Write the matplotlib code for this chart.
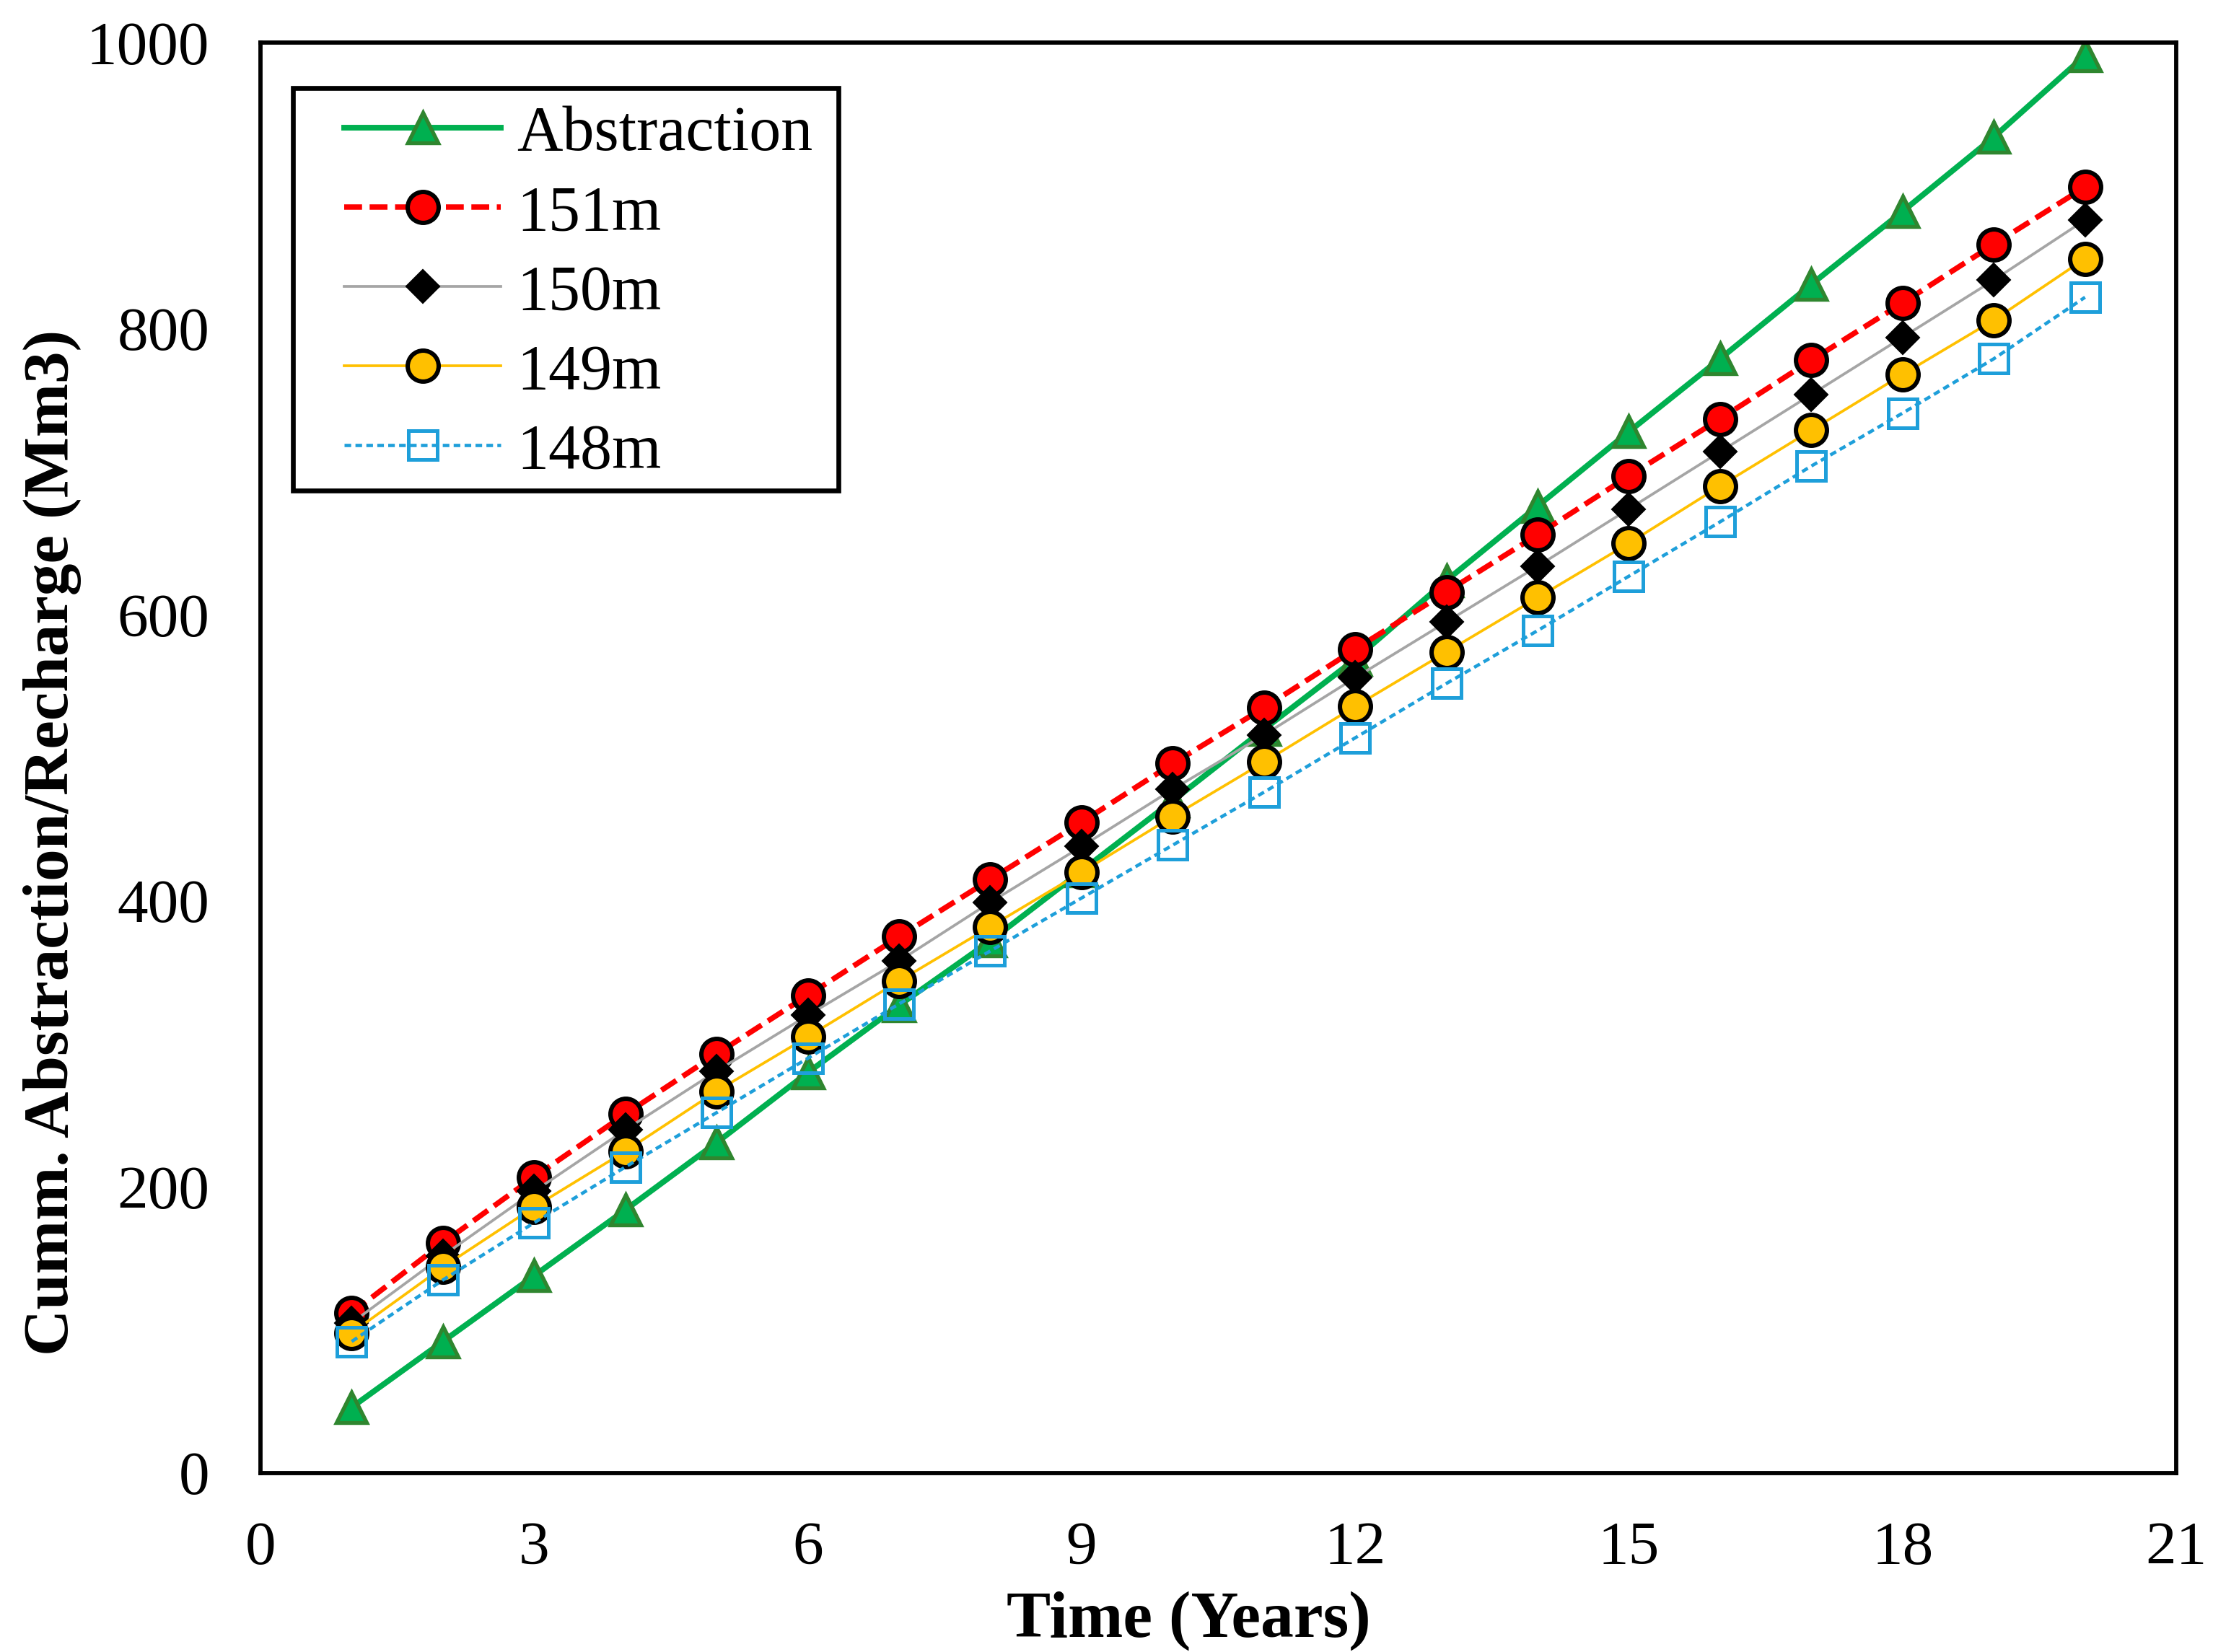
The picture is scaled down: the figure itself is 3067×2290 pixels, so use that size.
import matplotlib
matplotlib.use("Agg")
import matplotlib.pyplot as plt
from matplotlib.patches import Rectangle

plt.rcParams['font.family'] = ['Liberation Serif', 'DejaVu Serif']

# data
years = list(range(1, 21))
abstraction = [46, 92, 138, 184, 231, 280, 327, 372, 421, 470,
               520, 569, 624, 676, 728, 779, 831, 882, 934, 991]
r151 = [112, 161, 207, 251, 293, 334, 375, 415, 455, 496,
        535, 576, 616, 656, 697, 737, 778, 818, 859, 899]
r150 = [105, 152, 197, 240, 281, 320, 358, 399, 438, 478,
        516, 556, 595, 634, 674, 714, 754, 794, 834, 876]
r149 = [98, 144, 186, 225, 267, 305, 344, 382, 420, 459,
        497, 536, 574, 612, 650, 690, 729, 768, 806, 849]
r148 = [92, 135, 175, 214, 252, 290, 328, 365, 402, 439,
        476, 514, 552, 589, 627, 665, 704, 741, 779, 822]

x_ticks = [0, 3, 6, 9, 12, 15, 18, 21]
y_ticks = [0, 200, 400, 600, 800, 1000]

fig = plt.figure(figsize=(3067 / 300, 2290 / 300), dpi=300)
ax = fig.add_axes([0.1177, 0.1083, 0.8657, 0.8659])

ax.plot(years, abstraction, color='#00B050', lw=1.9, marker='^', ms=10,
        mfc='#00B050', mec='#2F862F', mew=1.3, label='Abstraction')
ax.plot(years, r151, color='#FF0000', lw=1.8, dashes=(3.3, 1.4), marker='o', ms=10.3,
        mfc='#FF0000', mec='black', mew=1.45, label='151m')
ax.plot(years, r150, color='#A5A5A5', lw=0.9, marker='D', ms=7.9,
        mfc='black', mec='black', mew=0.5, label='150m')
ax.plot(years, r149, color='#FFC000', lw=0.9, marker='o', ms=10.3,
        mfc='#FFC000', mec='black', mew=1.45, label='149m')
ax.plot(years, r148, color='#1E9FDA', lw=1.1, dashes=(2.0, 1.3), marker='s', ms=9.8,
        mfc='none', mec='#1E9FDA', mew=1.2, label='148m')

ax.set_xlim(0, 21)
ax.set_ylim(0, 1000)
ax.set_xticks(x_ticks)
ax.set_yticks(y_ticks)
ax.tick_params(axis='both', length=0, labelsize=20.5)
ax.tick_params(axis='x', pad=16)
ax.tick_params(axis='y', pad=17)
for s in ax.spines.values():
    s.set_linewidth(1.4)
    s.set_color('black')

ax.set_xlabel('Time (Years)', fontsize=22, fontweight='bold')
ax.xaxis.label.set_va('baseline')
ax.xaxis.set_label_coords(0.4844, -0.1145)
ax.set_ylabel('Cumm. Abstraction/Recharge (Mm3)', fontsize=21.4, fontweight='bold')
ax.yaxis.label.set_va('center')
ax.yaxis.set_label_coords(-0.1085, 0.4407)

leg = ax.legend(loc='upper left', bbox_to_anchor=(0.0437, 0.9561), frameon=False,
                fontsize=21.1, borderpad=0, borderaxespad=0, handlelength=2.47,
                handletextpad=0.25, labelspacing=0.33, numpoints=1)
ax.add_patch(Rectangle((0.01695, 0.6868), 0.3017 - 0.01695, 0.9682 - 0.6868,
                       transform=ax.transAxes, fill=False, ec='black', lw=1.6,
                       zorder=5, clip_on=False))

fig.savefig('out.png', dpi=300)
